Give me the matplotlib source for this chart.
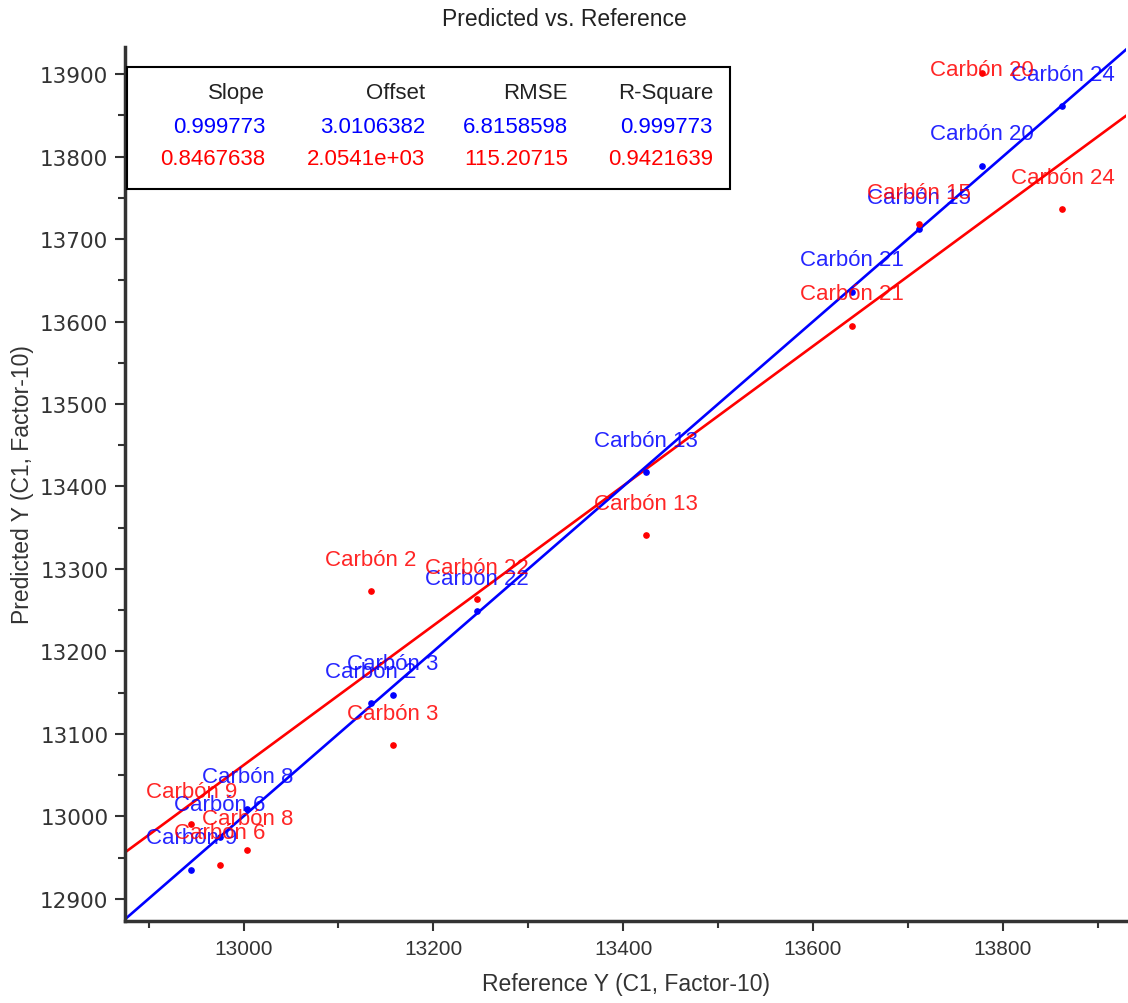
import matplotlib
matplotlib.use('Agg')
import matplotlib.pyplot as plt
from matplotlib.patches import Rectangle
from matplotlib.ticker import MultipleLocator

plt.rcParams['font.family'] = ['Liberation Sans', 'DejaVu Sans']

# samples, reference value and the two predicted series
names = ['Carbón 9', 'Carbón 6', 'Carbón 8', 'Carbón 2', 'Carbón 3', 'Carbón 22',
         'Carbón 13', 'Carbón 21', 'Carbón 15', 'Carbón 20', 'Carbón 24']
reference = [12945, 12975, 13004, 13134, 13157, 13246, 13424, 13641, 13712, 13778, 13863]
pred_blue = [12935, 12975, 13009, 13137, 13147, 13249, 13417, 13636, 13712, 13789, 13861]
pred_red = [12991, 12941, 12959, 13273, 13086, 13263, 13341, 13595, 13718, 13902, 13736]

# fit statistics (slope, offset) used for the regression lines
fit_blue = (0.999773, 3.0106382)
fit_red = (0.8467638, 2054.1)

stat_cols = ['Slope', 'Offset', 'RMSE', 'R-Square']
stat_blue = ['0.999773', '3.0106382', '6.8158598', '0.999773']
stat_red = ['0.8467638', '2.0541e+03', '115.20715', '0.9421639']

xlim = (12875, 13930)
ylim = (12873, 13933)

fig = plt.figure(figsize=(11.28, 10.04), dpi=100)
ax = fig.add_axes([125/1128, 1-922/1004, 1001/1128, 874/1004])
ax.set_xlim(*xlim)
ax.set_ylim(*ylim)

# regression lines across the full range
for (m, b), col in [(fit_red, 'red'), (fit_blue, 'blue')]:
    ax.plot(xlim, [m*xlim[0]+b, m*xlim[1]+b], color=col, lw=1.9, zorder=2)

ax.plot(reference, pred_blue, 'o', color='blue', ms=3.8, zorder=3)
ax.plot(reference, pred_red, 'o', color='red', ms=3.8, zorder=3)

# point labels, kept inside the top of the plot area
fig.canvas.draw()
top_px = ax.transAxes.transform((0, 1))[1]
for vals, col in [(pred_blue, 'blue'), (pred_red, 'red')]:
    for n, x, y in zip(names, reference, vals):
        py = ax.transData.transform((x, y))[1]
        ly = min(py + 32, top_px - 22)
        ax.annotate(n, (x, y), xytext=(0, (ly - py)*72/100), textcoords='offset points',
                    ha='center', va='center', color=col, fontsize=16, alpha=0.85, zorder=4)

# stats box
ax.add_patch(Rectangle((0.002, 0.8375), 0.602, 0.1395, transform=ax.transAxes,
                       fill=False, edgecolor='black', lw=1.5, zorder=5))
col_x = [0.140, 0.2997, 0.4426, 0.5874]
for cx, h, vb, vr in zip(col_x, stat_cols, stat_blue, stat_red):
    ax.text(cx, 0.9485, h, transform=ax.transAxes, ha='right', va='center', fontsize=16, color='#222222')
    ax.text(cx, 0.9096, vb, transform=ax.transAxes, ha='right', va='center', fontsize=16, color='blue')
    ax.text(cx, 0.8719, vr, transform=ax.transAxes, ha='right', va='center', fontsize=16, color='red')

for s in ['top', 'right']:
    ax.spines[s].set_visible(False)
for s in ['left', 'bottom']:
    ax.spines[s].set_linewidth(2.5)
    ax.spines[s].set_color('#333333')

ax.xaxis.set_major_locator(MultipleLocator(200))
ax.xaxis.set_minor_locator(MultipleLocator(100))
ax.yaxis.set_major_locator(MultipleLocator(100))
ax.yaxis.set_minor_locator(MultipleLocator(50))
ax.tick_params(which='major', length=7, width=1.5, color='#333333', labelcolor='#333333', pad=6)
ax.tick_params(which='minor', length=5, width=1.5, color='#333333')
ax.tick_params(axis='x', labelsize=15)
ax.tick_params(axis='y', labelsize=15.5, pad=5)
for lbl in ax.get_yticklabels():
    lbl.set_family('DejaVu Sans')

ax.set_xlabel('Reference Y (C1, Factor-10)', fontsize=16.5, color='#333333', labelpad=10)
ax.set_ylabel('Predicted Y (C1, Factor-10)', fontsize=16.5, color='#333333', labelpad=4)
fig.text(0.5, 1-19/1004, 'Predicted vs. Reference', ha='center', va='center', fontsize=16.5, color='#222222')

fig.savefig('out.png', dpi=100)
